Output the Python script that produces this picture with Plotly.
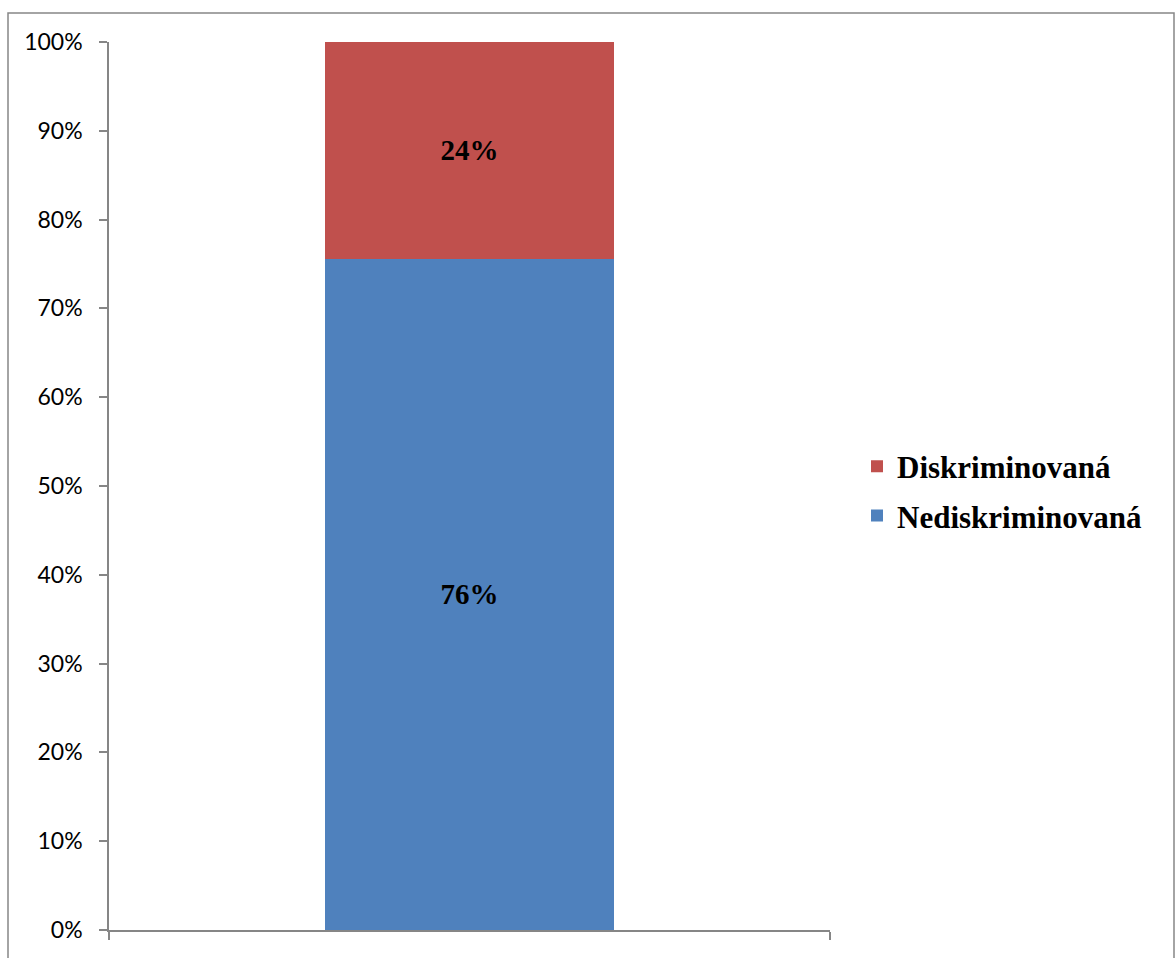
import plotly.graph_objects as go

categories = [0]
series_names = ["Nediskriminovaná", "Diskriminovaná"]
values_nedis = [75.6]
values_dis = [24.4]
colors = ["#4F81BD", "#C0504D"]
legend_ranks = [2, 1]
y_ticks = [0, 10, 20, 30, 40, 50, 60, 70, 80, 90, 100]
y_tick_labels = [f"{v}%" for v in y_ticks]

fig = go.Figure()
for name, vals, col, rank in zip(series_names, [values_nedis, values_dis], colors, legend_ranks):
    fig.add_trace(go.Bar(
        x=categories, y=vals, name=name, legendgroup=name, legendrank=rank,
        marker=dict(color=col, line=dict(width=0)),
        width=0.4,
        text=[f"{round(v)}%" for v in vals], textposition="inside", insidetextanchor="middle",
        textfont=dict(family="Liberation Serif", size=29, color="black", weight="bold"),
        hoverinfo="skip",
    ))

W, H = 1175, 958
L, R, T, B = 109, 345, 42, 28
pw, ph = W - L - R, H - T - B

def px(x):
    return (x - L) / pw

def py(y):
    return (H - B - y) / ph

fig.update_layout(
    width=W, height=H, barmode="stack",
    margin=dict(l=L, r=R, t=T, b=B),
    paper_bgcolor="white", plot_bgcolor="white",
    xaxis=dict(range=[-0.5, 0.5], tickvals=[-0.5, 0.5], ticktext=["", ""], ticks="outside",
               ticklen=8, tickcolor="#868686", tickwidth=1.5, showgrid=False, zeroline=False,
               showline=True, linecolor="#868686", linewidth=1.5, fixedrange=True),
    yaxis=dict(range=[0, 100], tickvals=y_ticks, ticktext=y_tick_labels, ticks="outside", ticklen=8,
               tickcolor="#868686", tickwidth=1.5, showgrid=False, zeroline=False,
               showline=True, linecolor="#868686", linewidth=1.5, ticklabelstandoff=12,
               tickfont=dict(family="Lato", size=23, color="black")),
    legend=dict(x=px(857), y=py(491), xanchor="left", yanchor="middle", traceorder="grouped",
                font=dict(family="Liberation Serif", size=31, color="black", weight="bold"),
                itemsizing="constant", tracegroupgap=6),
    showlegend=True,
    uniformtext=dict(mode=False),
)
fig.add_shape(type="rect", xref="paper", yref="paper",
              x0=px(8), x1=px(1174), y0=py(975), y1=py(13),
              line=dict(color="#868686", width=1.5), fillcolor="rgba(0,0,0,0)", layer="below")

fig.write_html("out.html")
